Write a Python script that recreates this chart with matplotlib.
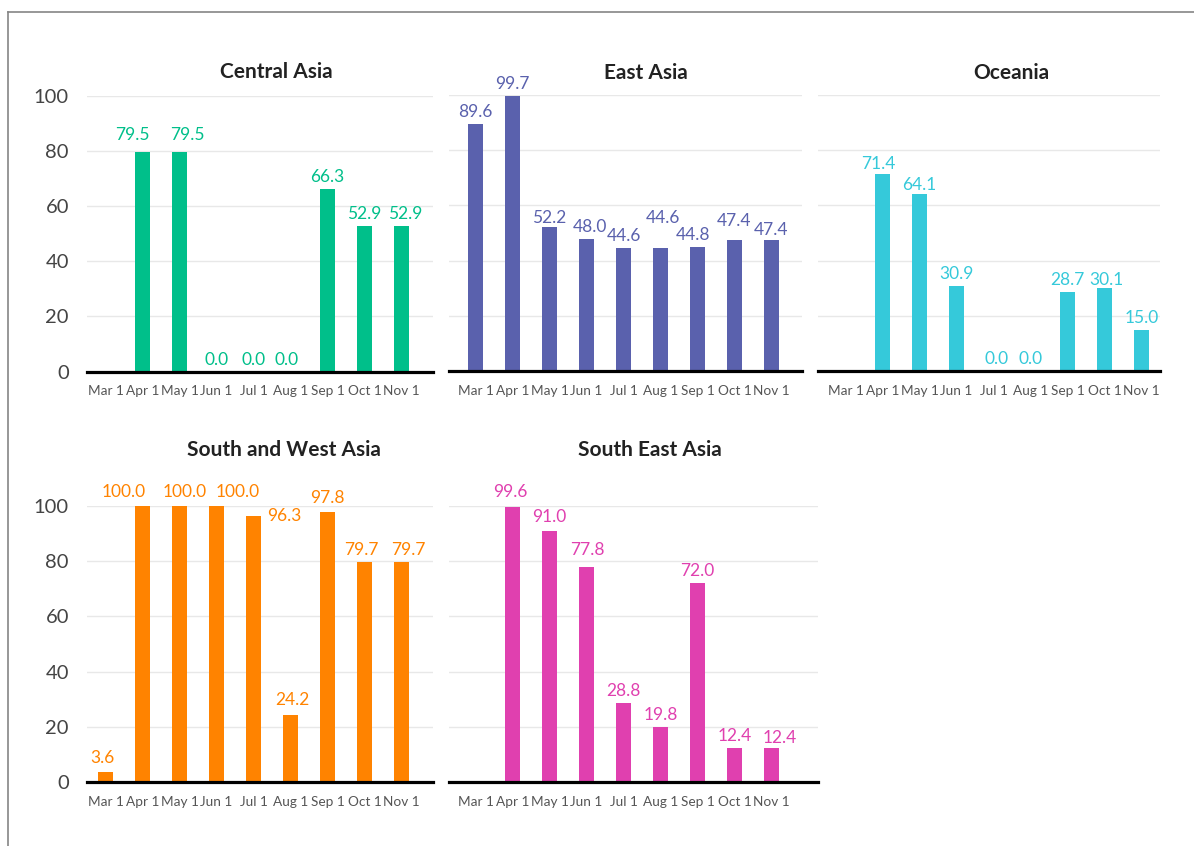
import numpy as np
import matplotlib
matplotlib.use('Agg')
from matplotlib import pyplot as plt
from matplotlib.lines import Line2D

# Monthly values per region (nan = no report that month)
months = ['Mar 1', 'Apr 1', 'May 1', 'Jun 1', 'Jul 1',
          'Aug 1', 'Sep 1', 'Oct 1', 'Nov 1']
central_asia = [np.nan, 79.5, 79.5, 0.0, 0.0, 0.0, 66.3, 52.9, 52.9]
east_asia = [89.6, 99.7, 52.2, 48.0, 44.6, 44.6, 44.8, 47.4, 47.4]
oceania = [np.nan, 71.4, 64.1, 30.9, 0.0, 0.0, 28.7, 30.1, 15.0]
south_west_asia = [3.6, 100.0, 100.0, 100.0, 96.3, 24.2, 97.8, 79.7, 79.7]
south_east_asia = [np.nan, 99.6, 91.0, 77.8, 28.8, 19.8, 72.0, 12.4, 12.4]
y_ticks = [0, 20, 40, 60, 80, 100]

W, H = 1194, 846
plt.rcParams['font.family'] = ['Lato', 'DejaVu Sans']

# name, values, colour, panel box in pixels (left, right, top, bottom),
# x-limits in category units, title centre (px), show y labels
panels = [
    ('Central Asia', central_asia, '#00BF8A',
     (87, 433, 96, 371.5), (-0.5, 8.85), (276, 78), True),
    ('East Asia', east_asia, '#5A61AD',
     (449, 802, 95, 371), (-0.716, 8.824), (646, 79), False),
    ('Oceania', oceania, '#35C9DA',
     (818, 1160, 95, 371), (-0.743, 8.5), (1011, 79), False),
    ('South and West Asia', south_west_asia, '#FF8300',
     (87, 433, 506, 782), (-0.5, 8.85), (284, 456), True),
    ('South East Asia', south_east_asia, '#E040AF',
     (449, 818, 506, 782), (-0.716, 9.26), (650, 456), False),
]

# label shifts in pixels (dx, dy up) so crowded value labels don't collide
nudges = {
    ('Central Asia', 1): (-10, 5), ('Central Asia', 2): (8, 5),
    ('Central Asia', 5): (-4, 0), ('Central Asia', 8): (4, 0),
    ('East Asia', 2): (0, -3), ('East Asia', 3): (3, 0),
    ('East Asia', 5): (2, 18), ('East Asia', 6): (-4, 0),
    ('East Asia', 7): (0, 7), ('East Asia', 8): (0, -2),
    ('Oceania', 1): (-4, -2), ('Oceania', 2): (0, -3),
    ('Oceania', 4): (3, 0), ('Oceania', 7): (2, -4),
    ('South and West Asia', 0): (-3, 2), ('South and West Asia', 1): (-19, 2),
    ('South and West Asia', 2): (5, 2), ('South and West Asia', 3): (21, 2),
    ('South and West Asia', 4): (31, -12), ('South and West Asia', 5): (2, 3),
    ('South and West Asia', 6): (0, 2), ('South and West Asia', 7): (-3, 0),
    ('South and West Asia', 8): (7, 0),
    ('South East Asia', 1): (-2, 3), ('South East Asia', 2): (0, 2),
    ('South East Asia', 3): (1, 5), ('South East Asia', 8): (8, -2),
}

fig = plt.figure(figsize=(W / 100, H / 100), dpi=100)
x = np.arange(len(months))

for name, vals, col, box, xlim, tpos, show_y in panels:
    l, r, t, b = box
    ax = fig.add_axes([l / W, 1 - b / H, (r - l) / W, (b - t) / H])
    vals = np.array(vals, dtype=float)
    ax.bar(x, np.nan_to_num(vals), width=0.405, color=col, zorder=2)
    for i, v in enumerate(vals):
        if np.isnan(v):
            continue
        dx, dy = nudges.get((name, i), (0, 0))
        ax.annotate('{:.1f}'.format(v), (i, v), xytext=(dx, 7 + dy),
                    textcoords='offset pixels', ha='center', va='baseline',
                    fontsize=12.5, color=col, annotation_clip=False)

    ax.set_xlim(*xlim)
    ax.set_ylim(0, 100)
    ax.set_xticks(x)
    ax.set_xticklabels(months, fontsize=9.8, color='#555555')
    ax.set_yticks(y_ticks)
    if show_y:
        ax.set_yticklabels([str(v) for v in y_ticks], fontsize=14.5,
                           color='#444444')
    else:
        ax.set_yticklabels([])
    ax.tick_params(length=0)
    ax.tick_params(axis='x', pad=10)
    ax.tick_params(axis='y', pad=13)

    for v in y_ticks[1:]:
        ax.axhline(v, color='#e8e8e8', lw=1, zorder=1)
    ax.axhline(0, color='black', lw=2.3, zorder=3, clip_on=False)
    for s in ax.spines.values():
        s.set_visible(False)

    fig.text(tpos[0] / W, 1 - tpos[1] / H, name, ha='center',
             va='baseline', fontsize=15, fontweight='bold',
             color='#222222')

# Page frame, open on the right and bottom
fx, fy = 8.3 / W, 1 - 11.7 / H
fig.add_artist(Line2D([fx, fx], [0, fy], transform=fig.transFigure,
                      color='#858585', lw=1.2))
fig.add_artist(Line2D([fx, 1], [fy, fy], transform=fig.transFigure,
                      color='#858585', lw=1.2))

fig.savefig('out.png', dpi=100)
